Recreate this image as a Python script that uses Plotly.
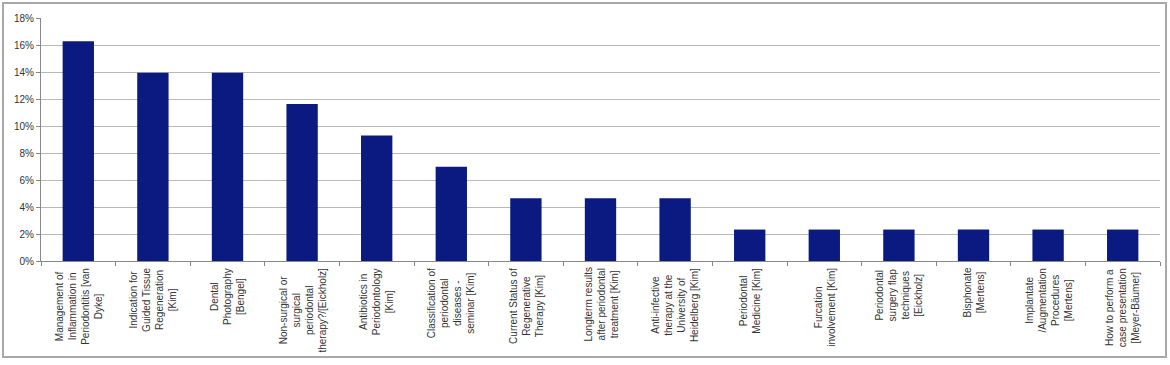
import plotly.graph_objects as go

categories = [
    "Management of<br>Inflammation in<br>Periodontitis [van<br>Dyke]",
    "Indication for<br>Guided Tissue<br>Regeneration<br>[Kim]",
    "Dental<br>Photography<br>[Bengel]",
    "Non-surgical or<br>surgical<br>periodontal<br>therapy?/[Eickholz]",
    "Antibiotics in<br>Periodontology<br>[Kim]",
    "Classification of<br>periodontal<br>diseases -<br>seminar [Kim]",
    "Current Status of<br>Regenerative<br>Therapy [Kim]",
    "Longterm results<br>after periodontal<br>treatment [Kim]",
    "Anti-infective<br>therapy at the<br>University of<br>Heidelberg [Kim]",
    "Periodontal<br>Medicine [Kim]",
    "Furcation<br>involvement [Kim]",
    "Periodontal<br>surgery flap<br>techniques<br>[Eickholz]",
    "Bisphonate<br>[Mertens]",
    "Implantate<br>/Augmentation<br>Procedures<br>[Mertens]",
    "How to perform a<br>case presentation<br>[Meyer-Bäumer]",
]
values = [0.1628, 0.1395, 0.1395, 0.1163, 0.0930, 0.0698, 0.0465, 0.0465,
          0.0465, 0.0233, 0.0233, 0.0233, 0.0233, 0.0233, 0.0233]
y_ticks = [0, 0.02, 0.04, 0.06, 0.08, 0.10, 0.12, 0.14, 0.16, 0.18]
y_tick_labels = ["0%", "2%", "4%", "6%", "8%", "10%", "12%", "14%", "16%", "18%"]

FONT = "Liberation Sans, Arial, sans-serif"

fig = go.Figure(go.Bar(x=categories, y=values, marker_color="#0a1a80",
                       marker_line_width=0))

annotations = [
    dict(x=c, y=0, xref="x", yref="paper", text=c, showarrow=False,
         textangle=-90, xanchor="center", yanchor="top", yshift=-5,
         align="center", font=dict(family=FONT, size=10, color="#333333"))
    for c in categories
]

W, H = 1170, 365
ml, mr, mt, mb = 41, 10, 18, 104
pw, ph = W - ml - mr, H - mt - mb
# outer frame in paper coordinates
x0 = (3 - ml) / pw
x1 = (1166 - ml) / pw
y0 = (H - mb - 357) / ph
y1 = (H - mb - 3) / ph

fig.update_layout(
    width=W, height=H,
    margin=dict(l=ml, r=mr, t=mt, b=mb),
    paper_bgcolor="white", plot_bgcolor="white",
    showlegend=False,
    bargap=0.58,
    font=dict(family=FONT, size=10, color="#333333"),
    annotations=annotations,
    shapes=[dict(type="rect", xref="paper", yref="paper", x0=x0, x1=x1, y0=y0, y1=y1,
                 line=dict(color="#a8a8a8", width=2), layer="below")],
    xaxis=dict(showticklabels=False, ticks="outside", tickson="boundaries",
               ticklen=4, tickcolor="#888888", showline=True, linecolor="#888888",
               linewidth=1, showgrid=False, fixedrange=True),
    yaxis=dict(range=[0, 0.18], tickvals=y_ticks, ticktext=y_tick_labels,
               ticks="outside", ticklen=4, tickcolor="#888888", showline=True,
               linecolor="#888888", linewidth=1, showgrid=True, gridcolor="#b8b8b8",
               gridwidth=1, zeroline=False, tickfont=dict(size=10, color="#333333")),
)

fig.write_html("out.html", config={"displayModeBar": False},
               post_script="document.body.style.margin='0';")
